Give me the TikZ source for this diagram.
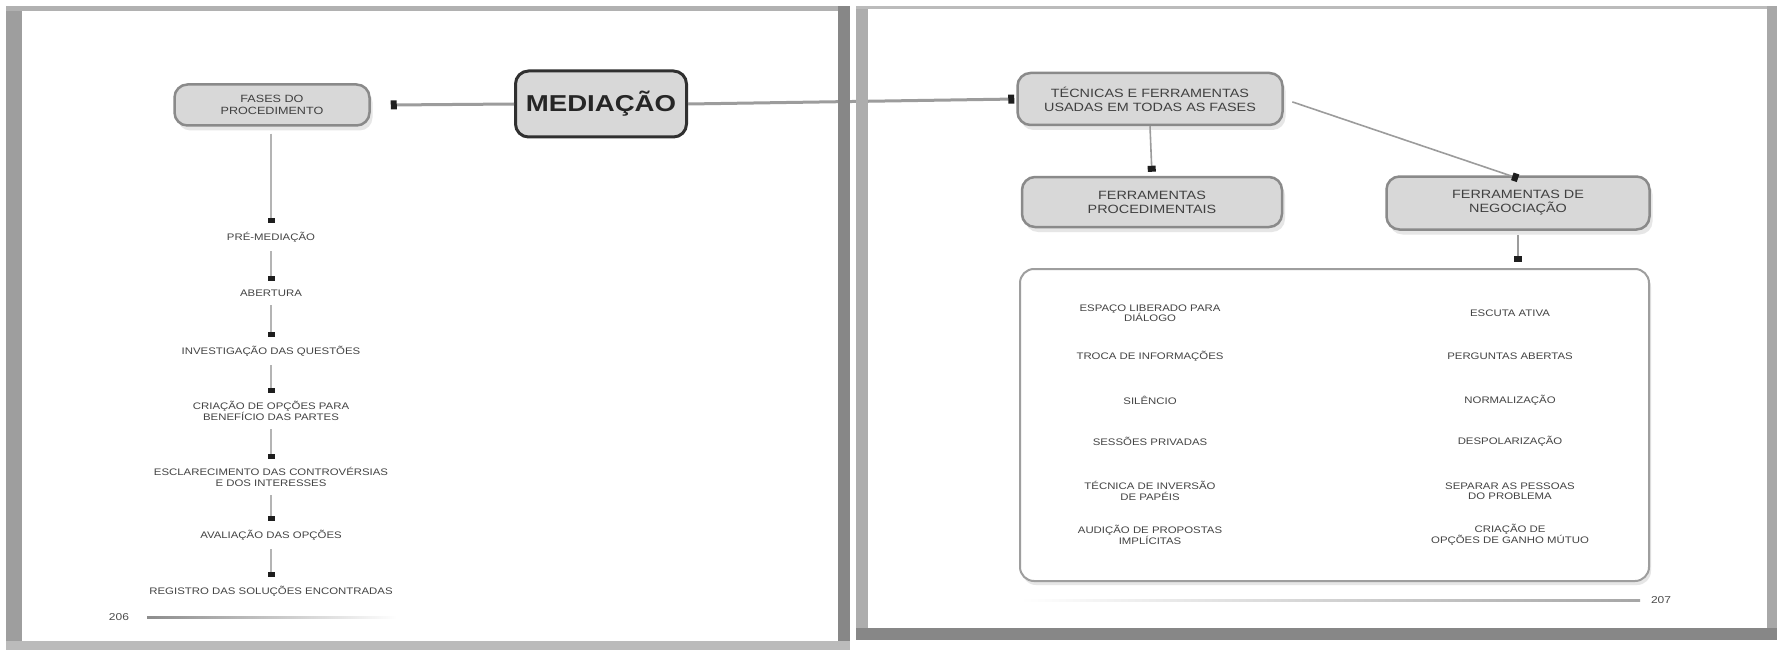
\documentclass[tikz,border=0pt]{standalone}
\usepackage{fontspec}
\setmainfont{Liberation Sans}[FakeStretch=1.2]
\usetikzlibrary{arrows.meta,shadows}
\definecolor{boxfill}{HTML}{D8D8D8}
\definecolor{boxline}{HTML}{8A8A8A}
\definecolor{medline}{HTML}{303030}
\definecolor{linkgray}{HTML}{9C9C9C}
\definecolor{steplink}{HTML}{B4B4B4}
\definecolor{tipcol}{HTML}{1E1E1E}
\definecolor{txtgray}{HTML}{444444}
\definecolor{boxtxt}{HTML}{404040}
\definecolor{framegray}{HTML}{9E9E9E}
\definecolor{framedark}{HTML}{878787}
\definecolor{shadowgray}{HTML}{E6E6E6}
\tikzset{
  bluebox/.style={draw=boxline, fill=boxfill, line width=2.5pt, rounded corners=13pt,
    align=center, text=boxtxt, font=\fontsize{12}{14}\selectfont,
    drop shadow={shadow xshift=3pt, shadow yshift=-5pt, fill=shadowgray, opacity=1}},
  medbox/.style={draw=medline, fill=boxfill, line width=3pt, rounded corners=13pt,
    align=center, text=black!85, font=\fontsize{23}{26}\selectfont\bfseries,
    minimum width=171pt, minimum height=66pt, inner sep=0pt},
  stepitem/.style={align=center, text=txtgray, font=\fontsize{9.5}{10.5}\selectfont,
    inner sep=0pt, outer ysep=9pt},
  listitem/.style={align=center, text=txtgray, font=\fontsize{9.5}{10.5}\selectfont, inner sep=0pt},
  mainlink/.style={draw=linkgray, line width=3pt,
    -{Rectangle[length=6pt,width=9pt,color=tipcol]}},
  steplinkst/.style={draw=steplink, line width=2.5pt,
    -{Rectangle[length=5pt,width=7pt,color=tipcol]}},
  thinlink/.style={draw=linkgray, line width=1.6pt,
    -{Rectangle[length=6pt,width=8pt,color=tipcol]}},
  pagenum/.style={text=black!70, font=\fontsize{10}{12}\selectfont, inner sep=0pt}
}
\begin{document}
\begin{tikzpicture}[x=1pt,y=-1pt]
\useasboundingbox (0,0) rectangle (1777,650);
\fill[white] (0,0) rectangle (1777,650);

% ---------------- left page ----------------
\node[bluebox, minimum width=195pt, minimum height=41pt, inner sep=0pt,
      font=\fontsize{10.5}{12.5}\selectfont] (fases) at (272,105) {FASES DO\\PROCEDIMENTO};
\node[medbox] (med) at (601,104) {MEDIAÇÃO};

\node[stepitem] (s1) at (271,237) {PRÉ-MEDIAÇÃO};
\node[stepitem] (s2) at (271,293) {ABERTURA};
\node[stepitem] (s3) at (271,351) {INVESTIGAÇÃO DAS QUESTÕES};
\node[stepitem] (s4) at (271,411) {CRIAÇÃO DE OPÇÕES PARA\\BENEFÍCIO DAS PARTES};
\node[stepitem] (s5) at (271,477) {ESCLARECIMENTO DAS CONTROVÉRSIAS\\E DOS INTERESSES};
\node[stepitem] (s6) at (271,535) {AVALIAÇÃO DAS OPÇÕES};
\node[stepitem] (s7) at (271,591) {REGISTRO DAS SOLUÇÕES ENCONTRADAS};

\draw[mainlink] (med.west) -- ([xshift=20pt]fases.east);
\draw[steplinkst, shorten <=7pt] (fases.south -| s1) -- (s1.north);
\draw[steplinkst] (s1.south) -- (s2.north);
\draw[steplinkst] (s2.south) -- (s3.north);
\draw[steplinkst] (s3.south) -- (s4.north);
\draw[steplinkst] (s4.south) -- (s5.north);
\draw[steplinkst] (s5.south) -- (s6.north);
\draw[steplinkst] (s6.south) -- (s7.north);

\node[pagenum] (p206) at (119,617) {206};
\shade[left color=black!45, right color=white] (147,616) rectangle (397,618.5);

% ---------------- right page ----------------
\node[bluebox, minimum width=265pt, minimum height=52pt, inner sep=0pt] (tec) at (1150,99)
  {TÉCNICAS E FERRAMENTAS\\USADAS EM TODAS AS FASES};
\node[bluebox, minimum width=260pt, minimum height=50pt, inner sep=0pt] (proc) at (1152,202)
  {FERRAMENTAS\\PROCEDIMENTAIS};
\node[bluebox, minimum width=263pt, minimum height=53pt, inner sep=0pt] (neg) at (1518,203)
  {FERRAMENTAS DE\\NEGOCIAÇÃO};
\node[draw=framegray, line width=2pt, rounded corners=14pt, fill=white,
      minimum width=629pt, minimum height=312pt, inner sep=0pt,
      drop shadow={shadow xshift=2pt, shadow yshift=-4pt, fill=shadowgray, opacity=1}]
      (list) at (1334.5,425) {};

\node[listitem] (l1) at (1150,313) {ESPAÇO LIBERADO PARA\\DIÁLOGO};
\node[listitem] (l2) at (1150,356) {TROCA DE INFORMAÇÕES};
\node[listitem] (l3) at (1150,400) {SILÊNCIO};
\node[listitem] (l4) at (1150,441) {SESSÕES PRIVADAS};
\node[listitem] (l5) at (1150,491) {TÉCNICA DE INVERSÃO\\DE PAPÉIS};
\node[listitem] (l6) at (1150,535) {AUDIÇÃO DE PROPOSTAS\\IMPLÍCITAS};

\node[listitem] (r1) at (1510,313) {ESCUTA ATIVA};
\node[listitem] (r2) at (1510,356) {PERGUNTAS ABERTAS};
\node[listitem] (r3) at (1510,400) {NORMALIZAÇÃO};
\node[listitem] (r4) at (1510,441) {DESPOLARIZAÇÃO};
\node[listitem] (r5) at (1510,491) {SEPARAR AS PESSOAS\\DO PROBLEMA};
\node[listitem] (r6) at (1510,535) {CRIAÇÃO DE\\OPÇÕES DE GANHO MÚTUO};

\draw[mainlink, shorten >=2pt] (med.east) -- (tec.west);
\draw[thinlink, shorten >=4pt] (tec.south) -- (proc.north);
\draw[thinlink, shorten <=9pt] (tec.east) -- ([yshift=-3pt]neg.north);
\draw[thinlink, shorten <=4pt, shorten >=6pt] (neg.south) -- (neg.south |- list.north);

\node[pagenum] (p207) at (1661,600) {207};
\shade[left color=white, right color=black!35] (1020,599) rectangle (1640,601.5);

% ---------------- page frames (drawn last) ----------------
% left page
\fill[framegray] (6,6) rectangle (22,647);
\fill[framegray!80] (6,6) rectangle (850,11);
\fill[framedark] (838,6) rectangle (850,650);
\fill[framegray!70] (6,641) rectangle (850,650);
% right page
\fill[framegray!85] (856,6) rectangle (868,640);
\fill[framegray!70] (856,6) rectangle (1777,9);
\fill[framegray!90] (1767,6) rectangle (1777,640);
\fill[framedark] (856,628) rectangle (1777,640);
\end{tikzpicture}
\end{document}
